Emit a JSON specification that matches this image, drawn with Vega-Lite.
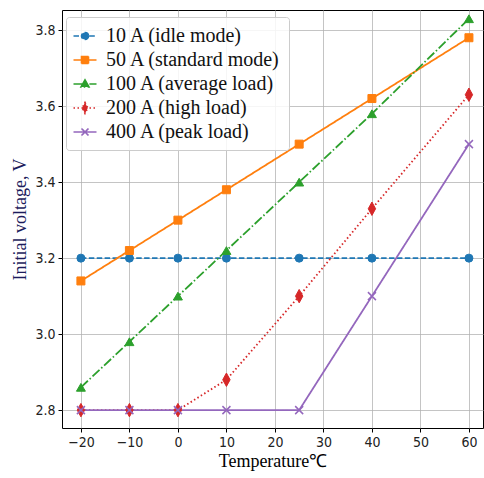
{
  "$schema": "https://vega.github.io/schema/vega-lite/v6.json",
  "width": 421,
  "height": 418,
  "autosize": {"type": "none"},
  "padding": {"left": 62, "top": 10, "right": 1, "bottom": 50},
  "background": "white",
  "config": {
    "view": {"stroke": "#000000", "strokeWidth": 1},
    "axis": {
      "domain": false,
      "grid": true,
      "gridColor": "#b0b0b0",
      "gridOpacity": 0.75,
      "gridWidth": 1,
      "tickColor": "#000000",
      "tickSize": 4,
      "labelFont": "DejaVu Sans Condensed",
      "labelFontSize": 14,
      "labelColor": "#222222",
      "labelPadding": 3,
      "titleFont": "Liberation Serif",
      "titleFontSize": 18,
      "titleFontWeight": "normal"
    },
    "legend": {
      "labelFont": "Liberation Serif",
      "labelFontSize": 20,
      "labelLimit": 400
    }
  },
  "data": {
    "values": [
      {"series": "10 A (idle mode)", "t": -20, "v": 3.2},
      {"series": "10 A (idle mode)", "t": -10, "v": 3.2},
      {"series": "10 A (idle mode)", "t": 0, "v": 3.2},
      {"series": "10 A (idle mode)", "t": 10, "v": 3.2},
      {"series": "10 A (idle mode)", "t": 25, "v": 3.2},
      {"series": "10 A (idle mode)", "t": 40, "v": 3.2},
      {"series": "10 A (idle mode)", "t": 60, "v": 3.2},
      {"series": "50 A (standard mode)", "t": -20, "v": 3.14},
      {"series": "50 A (standard mode)", "t": -10, "v": 3.22},
      {"series": "50 A (standard mode)", "t": 0, "v": 3.30},
      {"series": "50 A (standard mode)", "t": 10, "v": 3.38},
      {"series": "50 A (standard mode)", "t": 25, "v": 3.50},
      {"series": "50 A (standard mode)", "t": 40, "v": 3.62},
      {"series": "50 A (standard mode)", "t": 60, "v": 3.78},
      {"series": "100 A (average load)", "t": -20, "v": 2.86},
      {"series": "100 A (average load)", "t": -10, "v": 2.98},
      {"series": "100 A (average load)", "t": 0, "v": 3.10},
      {"series": "100 A (average load)", "t": 10, "v": 3.22},
      {"series": "100 A (average load)", "t": 25, "v": 3.40},
      {"series": "100 A (average load)", "t": 40, "v": 3.58},
      {"series": "100 A (average load)", "t": 60, "v": 3.83},
      {"series": "200 A (high load)", "t": -20, "v": 2.80},
      {"series": "200 A (high load)", "t": -10, "v": 2.80},
      {"series": "200 A (high load)", "t": 0, "v": 2.80},
      {"series": "200 A (high load)", "t": 10, "v": 2.88},
      {"series": "200 A (high load)", "t": 25, "v": 3.10},
      {"series": "200 A (high load)", "t": 40, "v": 3.33},
      {"series": "200 A (high load)", "t": 60, "v": 3.63},
      {"series": "400 A (peak load)", "t": -20, "v": 2.80},
      {"series": "400 A (peak load)", "t": -10, "v": 2.80},
      {"series": "400 A (peak load)", "t": 0, "v": 2.80},
      {"series": "400 A (peak load)", "t": 10, "v": 2.80},
      {"series": "400 A (peak load)", "t": 25, "v": 2.80},
      {"series": "400 A (peak load)", "t": 40, "v": 3.10},
      {"series": "400 A (peak load)", "t": 60, "v": 3.50}
    ]
  },
  "encoding": {
    "x": {
      "field": "t", "type": "quantitative",
      "scale": {"domain": [-23.9, 62.9], "nice": false, "zero": false},
      "axis": {"values": [-20, -10, 0, 10, 20, 30, 40, 50, 60], "title": "Temperature℃", "titleColor": "#000000", "titlePadding": 3}
    },
    "y": {
      "field": "v", "type": "quantitative",
      "scale": {"domain": [2.753, 3.853], "nice": false, "zero": false},
      "axis": {"values": [2.8, 3.0, 3.2, 3.4, 3.6, 3.8], "format": ".1f", "title": "Initial voltage, V", "titleColor": "#1c1c5c", "titlePadding": 5}
    },
    "color": {
      "field": "series", "type": "nominal",
      "scale": {
        "domain": ["10 A (idle mode)", "50 A (standard mode)", "100 A (average load)", "200 A (high load)", "400 A (peak load)"],
        "range": ["#1f77b4", "#ff7f0e", "#2ca02c", "#d62728", "#9467bd"]
      },
      "legend": {
        "orient": "none",
        "legendX": 4,
        "legendY": 7,
        "title": null,
        "symbolSize": 400,
        "symbolStrokeWidth": 1.6,
        "labelFont": "Liberation Serif",
        "labelFontSize": 20,
        "labelLimit": 400,
        "labelColor": "#111111",
        "labelOffset": 10,
        "fillColor": "rgba(255,255,255,0.85)",
        "strokeColor": "#cccccc",
        "cornerRadius": 3,
        "padding": 8,
        "rowPadding": 3,
        "encode": {
          "labels": {
            "update": {
              "text": {"signal": "datum.label + '\u2002\u2005'"},
              "font": {"value": "Liberation Serif"},
              "fontSize": {"value": 20},
              "limit": {"value": 400}
            }
          },
          "symbols": {
            "update": {
              "shape": {"signal": "datum.value === '10 A (idle mode)' ? 'M-1.15,0H1.15M0.35,0A0.35,0.35 0 1,1 -0.35,0A0.35,0.35 0 1,1 0.35,0Z' : datum.value === '50 A (standard mode)' ? 'M-1.15,0H1.15M-0.35,-0.35H0.35V0.35H-0.35Z' : datum.value === '100 A (average load)' ? 'M-1.15,0H1.15M0,-0.42L0.4,0.3H-0.4Z' : datum.value === '200 A (high load)' ? 'M-1.15,0H1.15M0,-0.55L0.28,0L0,0.55L-0.28,0Z' : 'M-1.15,0H1.15M-0.35,-0.35L0.35,0.35M-0.35,0.35L0.35,-0.35'"},
              "strokeDash": {"signal": "datum.value === '10 A (idle mode)' ? [5.5,2.4] : datum.value === '100 A (average load)' ? [9.6,2.4,1.5,2.4] : datum.value === '200 A (high load)' ? [1.5,2.5] : []"},
              "fill": {"scale": "color", "field": "value"},
              "stroke": {"scale": "color", "field": "value"},
              "fillOpacity": {"value": 1},
              "strokeOpacity": {"value": 1},
              "opacity": {"value": 1}
            }
          }
        }
      }
    }
  },
  "layer": [
    {
      "mark": {"type": "line", "strokeWidth": 1.8},
      "encoding": {
        "strokeDash": {
          "field": "series", "type": "nominal",
          "scale": {
            "domain": ["10 A (idle mode)", "50 A (standard mode)", "100 A (average load)", "200 A (high load)", "400 A (peak load)"],
            "range": [[5.5, 2.4], [1, 0], [9.6, 2.4, 1.5, 2.4], [1.5, 2.5], [1, 0]]
          },
          "legend": null
        }
      }
    },
    {
      "transform": [{"filter": "datum.series === '10 A (idle mode)'"}],
      "mark": {"type": "point", "filled": true, "opacity": 1, "shape": "circle", "size": 64, "stroke": "#1f77b4", "strokeWidth": 1}
    },
    {
      "transform": [{"filter": "datum.series === '50 A (standard mode)'"}],
      "mark": {"type": "point", "filled": true, "opacity": 1, "shape": "square", "size": 64, "stroke": "#ff7f0e", "strokeWidth": 1}
    },
    {
      "transform": [{"filter": "datum.series === '100 A (average load)'"}],
      "mark": {"type": "point", "filled": true, "opacity": 1, "shape": "triangle-up", "size": 80, "stroke": "#2ca02c", "strokeWidth": 1}
    },
    {
      "transform": [{"filter": "datum.series === '200 A (high load)'"}],
      "mark": {"type": "point", "filled": true, "opacity": 1, "shape": "M0,-1L0.55,0L0,1L-0.55,0Z", "size": 180, "stroke": "#d62728", "strokeWidth": 1}
    },
    {
      "transform": [{"filter": "datum.series === '400 A (peak load)'"}],
      "mark": {"type": "point", "filled": true, "opacity": 1, "shape": "M-1,-1L1,1M-1,1L1,-1", "size": 64, "stroke": "#9467bd", "strokeWidth": 1.5}
    }
  ]
}
